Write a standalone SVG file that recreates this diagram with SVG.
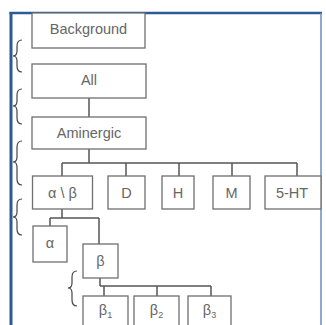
<svg xmlns="http://www.w3.org/2000/svg" width="326" height="325" viewBox="0 0 326 325">
<style>
.box{fill:#fff;stroke:#6f6f6f;stroke-width:1.3}
.t{font-family:"Liberation Sans",Arial,sans-serif;font-size:14.5px;fill:#666;text-anchor:middle}
.c{fill:none;stroke:#555;stroke-width:1.5}
.br{fill:none;stroke:#444;stroke-width:1.2}
</style>
<rect width="326" height="325" fill="#fff"/>
<g id="frame">
<line x1="9.5" y1="13" x2="322" y2="13" stroke="#2d5a96" stroke-width="2.5"/>
<line x1="11" y1="12" x2="11" y2="325" stroke="#2d5a96" stroke-width="3"/>
<line x1="321" y1="13" x2="321" y2="325" stroke="#6a8cc0" stroke-width="1.5"/>
</g>
<g id="braces">
<path class="br" d="M22,40 Q17,40 17,46 L17,51 Q17,56 13,56 Q17,56 17,61 L17,66 Q17,72 22,72"/>
<path class="br" d="M22,89 Q17,89 17,95 L17,101 Q17,106 13,106 Q17,106 17,111 L17,118 Q17,124 22,124"/>
<path class="br" d="M22,141 Q17,141 17,147 L17,157 Q17,162 13,162 Q17,162 17,167 L17,179 Q17,185 22,185"/>
<path class="br" d="M22,199 Q17,199 17,205 L17,212 Q17,217 13,217 Q17,217 17,222 L17,229 Q17,235 22,235"/>
<path class="br" d="M77,271 Q72,271 72,277 L72,283 Q72,288 68,288 Q72,288 72,293 L72,300 Q72,306 77,306"/>
</g>
<g id="connectors">
<line class="c" x1="89" y1="98" x2="89" y2="117"/>
<polyline class="c" points="89,149 89,163"/>
<line class="c" x1="62" y1="163" x2="297" y2="163"/>
<line class="c" x1="62" y1="163" x2="62" y2="176"/>
<line class="c" x1="126" y1="163" x2="126" y2="176"/>
<line class="c" x1="179" y1="163" x2="179" y2="176"/>
<line class="c" x1="232" y1="163" x2="232" y2="176"/>
<line class="c" x1="297" y1="163" x2="297" y2="176"/>
<line class="c" x1="62" y1="209" x2="62" y2="218"/>
<line class="c" x1="50" y1="218" x2="99" y2="218"/>
<line class="c" x1="50" y1="218" x2="50" y2="226"/>
<line class="c" x1="99" y1="218" x2="99" y2="244"/>
<line class="c" x1="100" y1="278" x2="100" y2="286"/>
<line class="c" x1="100" y1="286" x2="211" y2="286" stroke-width="2"/>
<line class="c" x1="104" y1="286" x2="104" y2="296"/>
<line class="c" x1="157" y1="286" x2="157" y2="296"/>
<line class="c" x1="211" y1="286" x2="211" y2="296"/>
</g>
<g id="background"><rect class="box" x="32" y="13" width="113" height="35"/><text class="t" x="88.5" y="33.5">Background</text></g>
<g id="all"><rect class="box" x="32" y="64" width="114" height="34"/><text class="t" x="89" y="85">All</text></g>
<g id="aminergic"><rect class="box" x="32" y="117" width="114" height="32"/><text class="t" x="89" y="137.5">Aminergic</text></g>
<g id="alphabeta"><rect class="box" x="32.5" y="176" width="60" height="33"/><text class="t" x="62.5" y="198">α \ β</text></g>
<g id="d"><rect class="box" x="108" y="176" width="37" height="33"/><text class="t" x="126.5" y="198">D</text></g>
<g id="h"><rect class="box" x="162" y="176" width="32" height="33"/><text class="t" x="178" y="198">H</text></g>
<g id="m"><rect class="box" x="213" y="176" width="37" height="33"/><text class="t" x="231.5" y="198">M</text></g>
<g id="ht5"><rect class="box" x="265" y="176" width="56" height="33"/><text class="t" x="292" y="198">5-HT</text></g>
<g id="alpha"><rect class="box" x="33" y="226" width="34" height="36"/><text class="t" x="50" y="248">α</text></g>
<g id="beta"><rect class="box" x="83" y="244" width="35" height="34"/><text class="t" x="100.5" y="266">β</text></g>
<g id="beta1"><rect class="box" x="83" y="296" width="45" height="35"/><text class="t" x="105.5" y="315">β<tspan font-size="9" dy="3">1</tspan></text></g>
<g id="beta2"><rect class="box" x="134" y="296" width="45" height="35"/><text class="t" x="156.5" y="315">β<tspan font-size="9" dy="3">2</tspan></text></g>
<g id="beta3"><rect class="box" x="188" y="296" width="43" height="35"/><text class="t" x="209.5" y="315">β<tspan font-size="9" dy="3">3</tspan></text></g>
</svg>
